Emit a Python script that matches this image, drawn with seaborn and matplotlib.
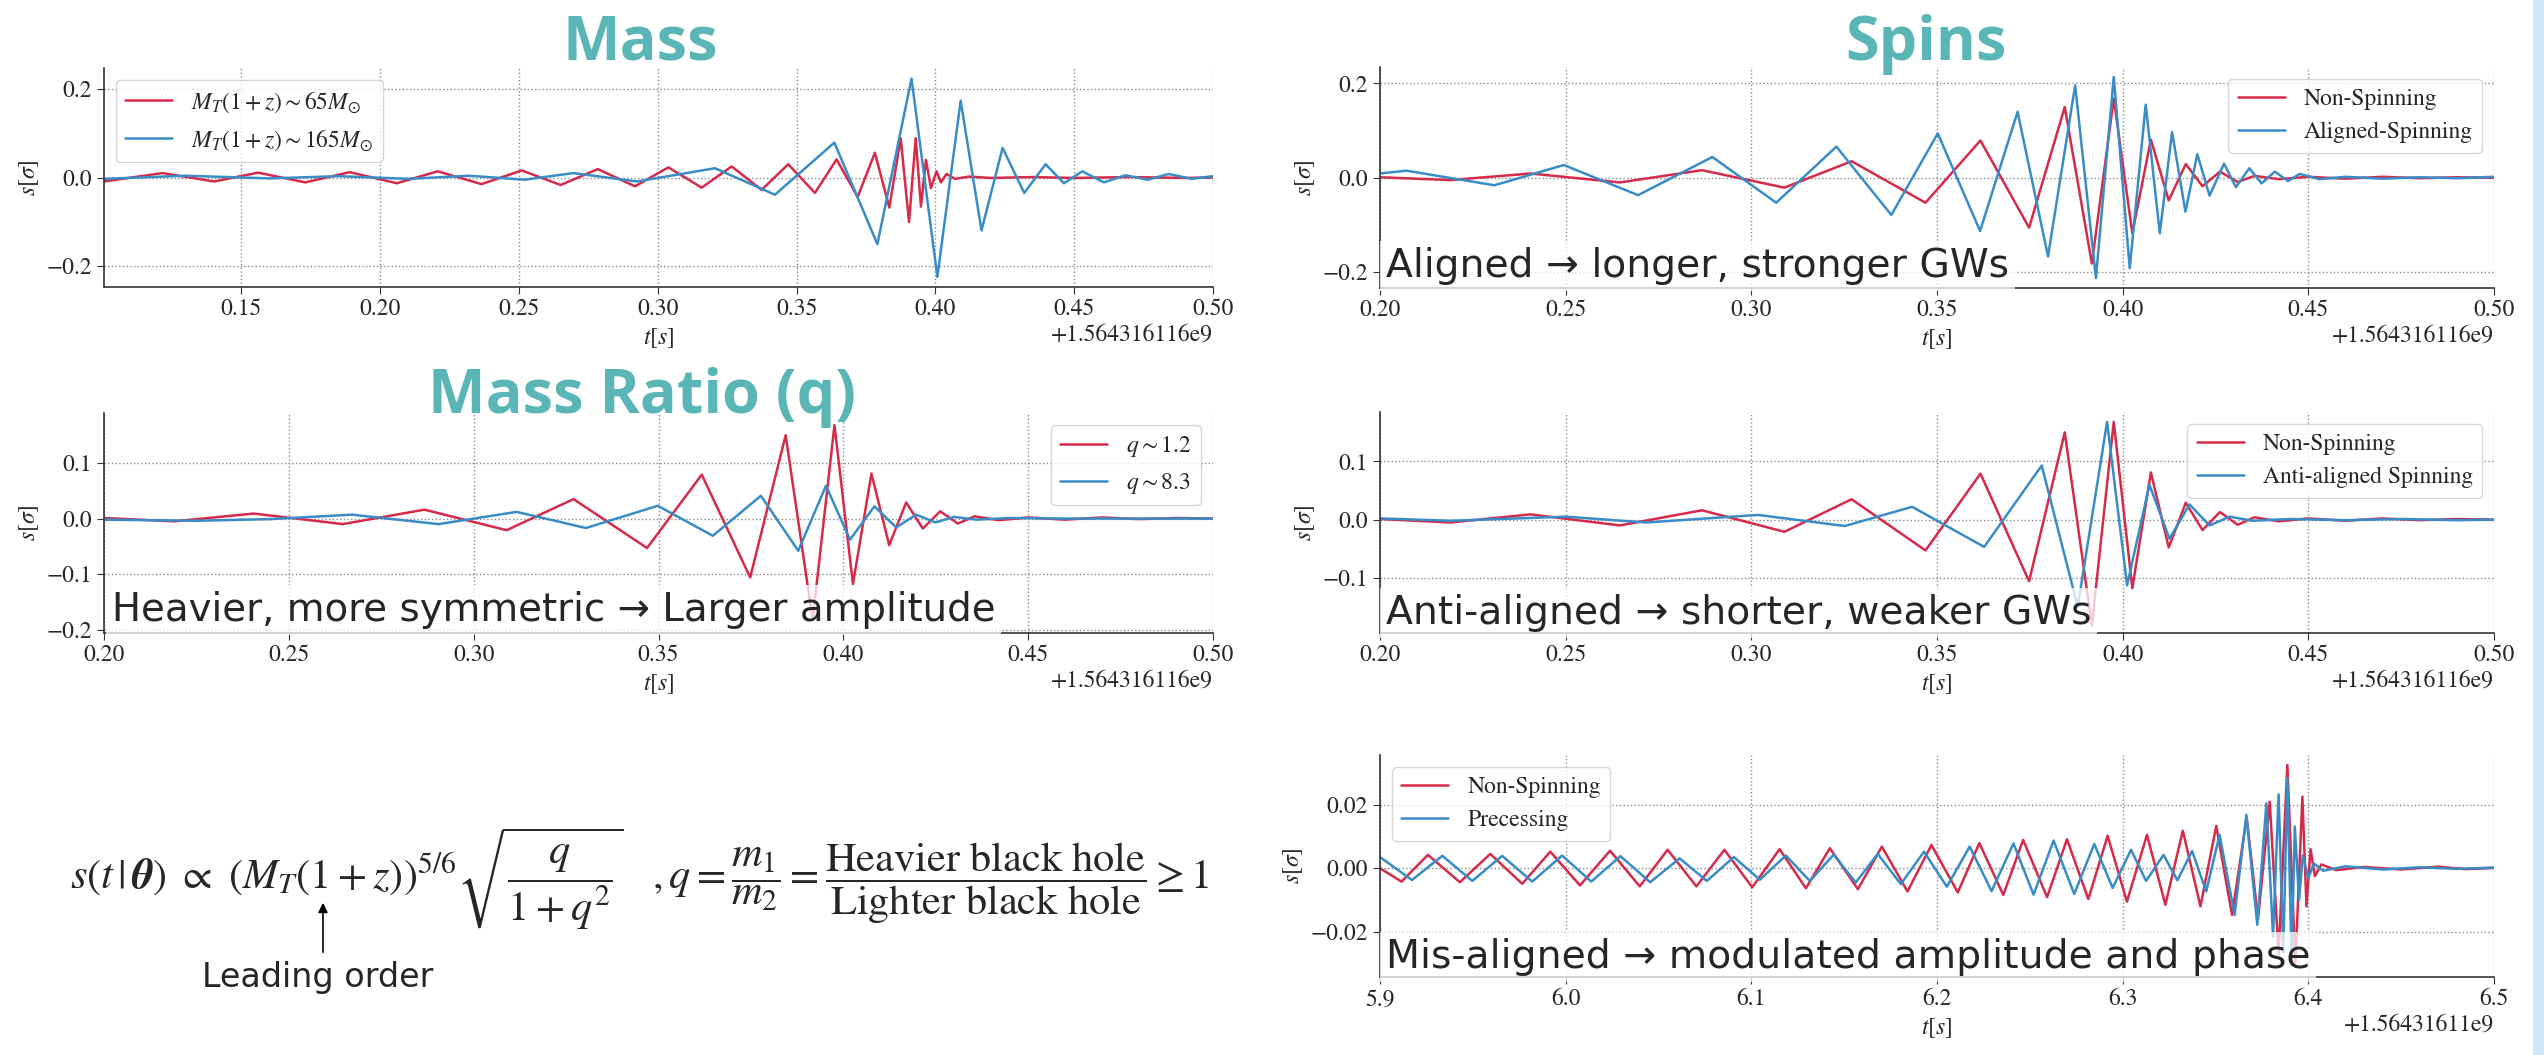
import numpy as np
import matplotlib.pyplot as plt
import seaborn as sns
from matplotlib.ticker import ScalarFormatter
from matplotlib.patches import FancyArrowPatch, Rectangle

# GPS offsets used by the time axes
gps_top = 1564316116
gps_prec = 1564316110

# --- Mass panel (peaks / troughs) ---
mass_lo_t = [0.1005, 0.1216, 0.1402, 0.1560, 0.1730, 0.1890, 0.2060, 0.2207, 0.2365, 0.2510,
             0.2650, 0.2784, 0.2918, 0.3038, 0.3158, 0.3266, 0.3374, 0.3470, 0.3566, 0.3644,
             0.3720, 0.3782, 0.3834, 0.3875, 0.3905, 0.3929, 0.3948, 0.3966, 0.3984, 0.4004,
             0.4020, 0.4040, 0.4070, 0.4120, 0.4200, 0.4350, 0.4500, 0.4700, 0.4900, 0.5000]
mass_lo_s = [-0.009, 0.010, -0.009, 0.011, -0.011, 0.012, -0.013, 0.014, -0.015, 0.016,
             -0.017, 0.019, -0.020, 0.023, -0.023, 0.025, -0.028, 0.030, -0.035, 0.041,
             -0.044, 0.056, -0.068, 0.089, -0.101, 0.089, -0.066, 0.040, -0.024, 0.014,
             -0.011, 0.008, -0.003, 0.002, -0.001, 0.001, -0.001, 0.001, -0.001, 0.000]
mass_hi_t = [0.1005, 0.1300, 0.1600, 0.1850, 0.2100, 0.2320, 0.2520, 0.2696, 0.2925, 0.3206,
             0.3422, 0.3636, 0.3791, 0.3914, 0.4007, 0.4091, 0.4166, 0.4242, 0.4320, 0.4397,
             0.4463, 0.4529, 0.4607, 0.4684, 0.4765, 0.4840, 0.4923, 0.5000]
mass_hi_s = [-0.003, 0.004, -0.002, 0.003, -0.003, 0.004, -0.005, 0.010, -0.009, 0.021,
             -0.039, 0.079, -0.151, 0.224, -0.225, 0.174, -0.120, 0.067, -0.035, 0.030,
             -0.013, 0.014, -0.011, 0.005, -0.005, 0.008, -0.003, 0.003]

# --- non-spinning reference waveform (q ~ 1.2), used in three panels ---
nonspin_t = [0.2000, 0.2190, 0.2405, 0.2646, 0.2867, 0.3089, 0.3270, 0.3469, 0.3617, 0.3748,
             0.3844, 0.3917, 0.3976, 0.4026, 0.4076, 0.4124, 0.4170, 0.4215, 0.4262, 0.4310,
             0.4355, 0.4420, 0.4500, 0.4600, 0.4700, 0.4800, 0.4900, 0.5000]
nonspin_s = [0.001, -0.005, 0.009, -0.010, 0.016, -0.021, 0.035, -0.053, 0.079, -0.106,
             0.150, -0.182, 0.168, -0.118, 0.081, -0.048, 0.029, -0.018, 0.013, -0.009,
             0.004, -0.003, 0.002, -0.002, 0.002, -0.001, 0.001, 0.000]

# --- mass ratio q ~ 8.3 ---
q_hi_t = [0.2000, 0.2250, 0.2450, 0.2670, 0.2905, 0.3116, 0.3304, 0.3498, 0.3647, 0.3777,
          0.3878, 0.3953, 0.4018, 0.4084, 0.4143, 0.4197, 0.4249, 0.4300, 0.4360, 0.4450,
          0.4600, 0.4800, 0.5000]
q_hi_s = [-0.002, -0.004, -0.001, 0.007, -0.010, 0.012, -0.017, 0.023, -0.031, 0.041,
          -0.058, 0.059, -0.038, 0.022, -0.016, 0.007, -0.007, 0.003, -0.002, 0.001,
          0.000, 0.000, 0.000]

# --- aligned spins ---
aligned_t = [0.2000, 0.2071, 0.2308, 0.2495, 0.2695, 0.2895, 0.3067, 0.3229, 0.3377, 0.3502,
             0.3616, 0.3717, 0.3799, 0.3872, 0.3928, 0.3976, 0.4019, 0.4062, 0.4100, 0.4133,
             0.4169, 0.4201, 0.4234, 0.4273, 0.4305, 0.4341, 0.4374, 0.4410, 0.4445, 0.4477,
             0.4530, 0.4600, 0.4700, 0.4800, 0.4900, 0.5000]
aligned_s = [0.009, 0.015, -0.016, 0.027, -0.037, 0.044, -0.053, 0.066, -0.079, 0.094,
             -0.113, 0.140, -0.167, 0.196, -0.213, 0.214, -0.192, 0.155, -0.118, 0.097,
             -0.072, 0.050, -0.038, 0.030, -0.020, 0.020, -0.012, 0.013, -0.007, 0.008,
             -0.003, 0.002, -0.002, 0.001, -0.001, 0.002]

# --- anti-aligned spins ---
anti_t = [0.2000, 0.2190, 0.2501, 0.2717, 0.3018, 0.3252, 0.3433, 0.3627, 0.3782, 0.3879,
          0.3958, 0.4012, 0.4072, 0.4126, 0.4180, 0.4234, 0.4288, 0.4350, 0.4450, 0.4600,
          0.4750, 0.4900, 0.5000]
anti_s = [0.002, -0.002, 0.005, -0.005, 0.008, -0.011, 0.022, -0.047, 0.093, -0.150,
          0.168, -0.113, 0.060, -0.033, 0.026, -0.010, 0.005, -0.002, 0.001, -0.001,
          0.001, -0.001, 0.000]

# --- precessing panel (times after +1.56431611e9) ---
prec_ns_t = [5.9000, 5.9116, 5.9258, 5.9430, 5.9594, 5.9766, 5.9917, 6.0077, 6.0239, 6.0399,
             6.0549, 6.0704, 6.0855, 6.1005, 6.1152, 6.1294, 6.1423, 6.1574, 6.1703, 6.1841,
             6.1970, 6.2112, 6.2228, 6.2357, 6.2464, 6.2593, 6.2700, 6.2815, 6.2919, 6.3023,
             6.3131, 6.3230, 6.3324, 6.3419, 6.3504, 6.3589, 6.3668, 6.3729, 6.3792, 6.3840,
             6.3887, 6.3930, 6.3968, 6.3990, 6.4012, 6.4035, 6.4070, 6.4150, 6.4300, 6.4500,
             6.4700, 6.4850, 6.5000]
prec_ns_s = [0.0000, -0.0042, 0.0042, -0.0044, 0.0045, -0.0049, 0.0052, -0.0054, 0.0055, -0.0057,
             0.0058, -0.0057, 0.0058, -0.0060, 0.0060, -0.0063, 0.0063, -0.0066, 0.0068, -0.0073,
             0.0073, -0.0076, 0.0079, -0.0084, 0.0089, -0.0091, 0.0091, -0.0097, 0.0102, -0.0105,
             0.0105, -0.0115, 0.0118, -0.0120, 0.0133, -0.0147, 0.0160, -0.0160, 0.0209, -0.0270,
             0.0325, -0.0305, 0.0225, -0.0120, 0.0060, -0.0025, 0.0012, -0.0006, 0.0004, -0.0004,
             0.0005, -0.0003, 0.0001]
prec_t = [5.9000, 5.9172, 5.9336, 5.9497, 5.9658, 5.9820, 5.9981, 6.0138, 6.0295, 6.0455,
          6.0614, 6.0760, 6.0906, 6.1046, 6.1186, 6.1315, 6.1444, 6.1562, 6.1681, 6.1805,
          6.1930, 6.2053, 6.2176, 6.2294, 6.2412, 6.2520, 6.2628, 6.2739, 6.2847, 6.2946,
          6.3045, 6.3126, 6.3220, 6.3295, 6.3374, 6.3450, 6.3522, 6.3603, 6.3666, 6.3725,
          6.3774, 6.3810, 6.3840, 6.3865, 6.3887, 6.3910, 6.3927, 6.3950, 6.3970, 6.4000,
          6.4030, 6.4080, 6.4200, 6.4400, 6.4600, 6.4800, 6.5000]
prec_s = [0.0035, -0.0037, 0.0039, -0.0040, 0.0039, -0.0042, 0.0040, -0.0042, 0.0038, -0.0044,
          0.0031, -0.0040, 0.0035, -0.0036, 0.0040, -0.0040, 0.0043, -0.0045, 0.0045, -0.0050,
          0.0052, -0.0058, 0.0068, -0.0072, 0.0078, -0.0083, 0.0087, -0.0081, 0.0076, -0.0062,
          0.0058, -0.0040, 0.0042, -0.0038, 0.0054, -0.0073, 0.0105, -0.0147, 0.0168, -0.0178,
          0.0204, -0.0215, 0.0232, -0.0265, 0.0283, -0.0290, 0.0131, -0.0100, 0.0040, -0.0030,
          0.0015, -0.0008, 0.0006, -0.0004, 0.0003, -0.0002, 0.0002]

red = "#d62a4a"
blue = "#3a8cc6"
teal = "#5ab5b6"

sns.set_style("ticks")
plt.rcParams["font.family"] = "STIXGeneral"
plt.rcParams["mathtext.fontset"] = "stix"
plt.rcParams["axes.unicode_minus"] = True

W, H = 2544, 1055
fig = plt.figure(figsize=(W / 100, H / 100), dpi=100)


def panel(left, top, right, bottom):
    return fig.add_axes([left / W, 1 - bottom / H, (right - left) / W, (bottom - top) / H])


def draw(ax, gps, t1, s1, lab1, t2, s2, lab2):
    sns.lineplot(x=np.array(t1) + gps, y=s1, ax=ax, color=red, lw=1.8, label=lab1,
                 estimator=None, sort=False)
    sns.lineplot(x=np.array(t2) + gps, y=s2, ax=ax, color=blue, lw=1.8, label=lab2,
                 estimator=None, sort=False)


def style(ax, gps, xlim, xticks, ylim, yticks, loc):
    ax.set_xlim(gps + xlim[0], gps + xlim[1])
    ax.set_xticks([gps + v for v in xticks])
    ax.xaxis.set_major_formatter(ScalarFormatter(useOffset=gps))
    ax.set_ylim(ylim)
    ax.set_yticks(yticks)
    ax.grid(True, color="#8a8a8a", ls=":", lw=1.0)
    sns.despine(ax=ax)
    for sp in ["left", "bottom"]:
        ax.spines[sp].set_color("#333333")
        ax.spines[sp].set_linewidth(1.2)
    ax.tick_params(labelsize=17, length=5, color="#333333")
    ax.xaxis.get_offset_text().set_fontsize(17)
    ax.set_xlabel(r"$t[s]$", fontsize=17)
    ax.set_ylabel(r"$s[\sigma]$", fontsize=17)
    ax.legend(loc=loc, fontsize=17, framealpha=0.8, edgecolor="#cccccc")


ax1 = panel(104, 68, 1213, 287)
draw(ax1, gps_top, mass_lo_t, mass_lo_s, r"$M_T(1+z)\sim65M_{\odot}$",
     mass_hi_t, mass_hi_s, r"$M_T(1+z)\sim165M_{\odot}$")
style(ax1, gps_top, (0.1005, 0.50), [0.15, 0.20, 0.25, 0.30, 0.35, 0.40, 0.45, 0.50],
      (-0.248, 0.248), [-0.2, 0.0, 0.2], "upper left")

ax2 = panel(104, 413, 1213, 633)
draw(ax2, gps_top, nonspin_t, nonspin_s, r"$q\sim1.2$", q_hi_t, q_hi_s, r"$q\sim8.3$")
style(ax2, gps_top, (0.20, 0.50), [0.20, 0.25, 0.30, 0.35, 0.40, 0.45, 0.50],
      (-0.206, 0.19), [-0.2, -0.1, 0.0, 0.1], "upper right")

ax3 = panel(1380, 67, 2494, 288)
draw(ax3, gps_top, nonspin_t, nonspin_s, "Non-Spinning", aligned_t, aligned_s, "Aligned-Spinning")
style(ax3, gps_top, (0.20, 0.50), [0.20, 0.25, 0.30, 0.35, 0.40, 0.45, 0.50],
      (-0.234, 0.235), [-0.2, 0.0, 0.2], "upper right")

ax4 = panel(1380, 412, 2494, 633)
draw(ax4, gps_top, nonspin_t, nonspin_s, "Non-Spinning", anti_t, anti_s, "Anti-aligned Spinning")
style(ax4, gps_top, (0.20, 0.50), [0.20, 0.25, 0.30, 0.35, 0.40, 0.45, 0.50],
      (-0.195, 0.185), [-0.1, 0.0, 0.1], "upper right")

ax5 = panel(1380, 755, 2494, 977)
draw(ax5, gps_prec, prec_ns_t, prec_ns_s, "Non-Spinning", prec_t, prec_s, "Precessing")
style(ax5, gps_prec, (5.9, 6.5), [5.9, 6.0, 6.1, 6.2, 6.3, 6.4, 6.5],
      (-0.0342, 0.0356), [-0.02, 0.0, 0.02], "upper left")

# section titles
for txt, x, y in [("Mass", 640, 60), ("Spins", 1926, 60), ("Mass Ratio (q)", 642, 413)]:
    fig.text(x / W, 1 - y / H, txt, ha="center", va="baseline", fontsize=44,
             fontweight="bold", color=teal, family="Open Sans")

# take-away notes on semi-transparent boxes
box = dict(boxstyle="square,pad=0.15", fc="white", ec="none", alpha=0.75)
notes = [("Heavier, more symmetric \u2192 Larger amplitude", 112, 621, 27.9),
         ("Aligned \u2192 longer, stronger GWs", 1386, 277, 28.3),
         ("Anti-aligned \u2192 shorter, weaker GWs", 1386, 624, 28.3),
         ("Mis-aligned \u2192 modulated amplitude and phase", 1386, 968, 28.4)]
for txt, x, y, fs in notes:
    fig.text(x / W, 1 - y / H, txt, ha="left", va="baseline", fontsize=fs,
             family="DejaVu Sans", bbox=box)

formula = (r"$s(t\,|\,\boldsymbol{\theta})\ \propto\ \left(M_T(1+z)\right)^{5/6}"
           r"\sqrt{\dfrac{q}{1+q^2}}\quad ,q=\dfrac{m_1}{m_2}="
           r"\dfrac{\mathrm{Heavier\ black\ hole}}{\mathrm{Lighter\ black\ hole}}\geq 1$")
fig.text(70 / W, 1 - 879 / H, formula, ha="left", va="center", fontsize=30.5)
fig.text(318 / W, 1 - 977 / H, "Leading order", ha="center", va="center", fontsize=24,
         family="DejaVu Sans")
fig.add_artist(FancyArrowPatch((323 / W, 1 - 955 / H), (323 / W, 1 - 900 / H),
                               transform=fig.transFigure, arrowstyle="-|>",
                               mutation_scale=14, lw=1.2, color="black"))

# light blue strip on the right edge of the slide
fig.add_artist(Rectangle((2533 / W, 0), 11 / W, 1, transform=fig.transFigure,
                         fc="#cfe6f9", ec="none"))

plt.savefig("out.png", dpi=100)
